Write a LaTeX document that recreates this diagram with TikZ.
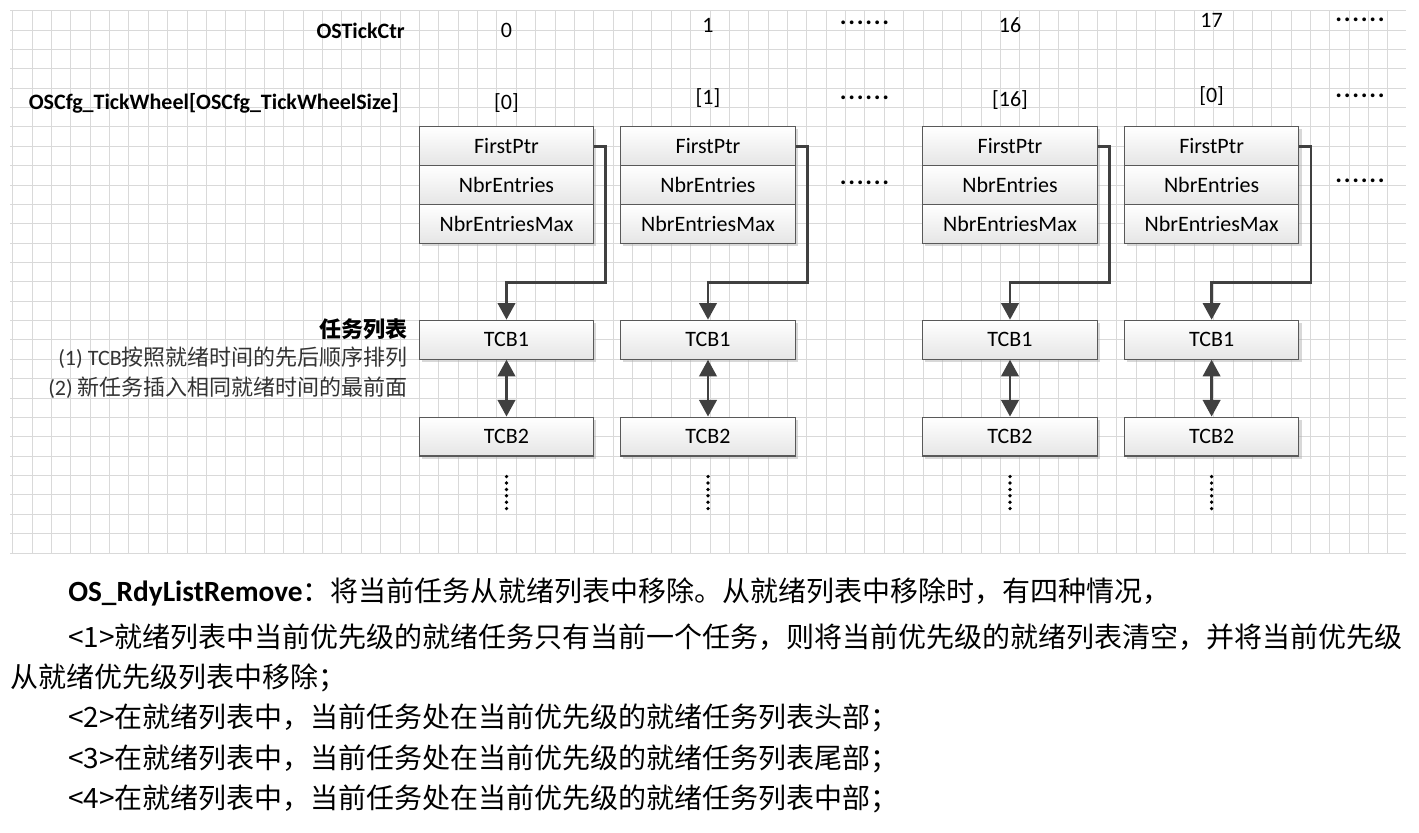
\documentclass[tikz,border=0pt]{standalone}
\usepackage{fontspec}
\setmainfont{Carlito}
\newfontfamily\cjk{Noto Sans CJK SC}
\usetikzlibrary{arrows.meta,shadows,calc}
\newcommand{\sixdots}{\foreach \d in {1,...,6}{.\hspace{1.3pt}}}
\newcommand{\bigtext}{\cjk\fontsize{21pt}{24pt}\selectfont}

\begin{document}
\fontsize{16.5pt}{19pt}\selectfont
\begin{tikzpicture}[x=0.75pt,y=-0.75pt,
  gridline/.style={draw=black!15,line width=0.75pt},
  field/.style={draw=black!65,line width=0.9pt,top color=white,bottom color=black!10,
    minimum width=130.9pt,minimum height=29.1pt,inner sep=0pt,
    drop shadow={shadow xshift=2pt,shadow yshift=-2pt,fill=black!30,opacity=0.5}},
  link/.style={draw=black!75,line width=2.2pt},
  tip/.style={-{Triangle[width=13pt,length=12.5pt]}},
  twotip/.style={{Triangle[width=13pt,length=12.5pt]}-{Triangle[width=13pt,length=12.5pt]}},
  vdots/.style={draw=black,line width=2.8pt,line cap=round,dash pattern=on 0pt off 4.8pt},
  txt/.style={inner sep=0pt}]
\useasboundingbox (0,0) rectangle (1419,832);
% grid background
\foreach \k in {0,...,71}
  \draw[gridline] ({12.7+19.37*\k},10.7) -- ++(0,542.6);
\foreach \k in {0,...,28}
  \draw[gridline] (10,{10.7+19.37*\k}) -- (1406,{10.7+19.37*\k});
% row titles
\node[txt,anchor=east,font=\bfseries] (tickctr) at (405,31) {OSTickCtr};
\node[txt,anchor=east,font=\bfseries] (wheel) at (399,103) {OSCfg\_TickWheel[OSCfg\_TickWheelSize]};
% wheel slots
\foreach \c/\x/\n/\ny/\w/\wy in {a/506.5/0/30/{[0]}/103, b/708/1/25/{[1]}/98,
    c/1010/16/25/{[16]}/100, d/1211.6/17/20/{[0]}/96}{
  \node[txt] (tick\c) at (\x,\ny) {\n};
  \node[txt] (slot\c) at (\x,\wy) {\w};
  \node[field] (first\c) at (\x,146.2) {FirstPtr};
  \node[field] (nbr\c) at (\x,185) {NbrEntries};
  \node[field] (max\c) at (\x,223.8) {NbrEntriesMax};
  \node[field] (tcba\c) at (\x,339.7) {TCB1};
  \node[field] (tcbb\c) at (\x,436.6) {TCB2};
  \draw[link,tip] (first\c.east) -- ++(11.5,0) -- ++(0,136) -| (tcba\c.north);
  \draw[link,twotip] (tcba\c.south) -- (tcbb\c.north);
  \draw[vdots] ($(tcbb\c.south)+(0,20)$) -- ++(0,38);
}
\foreach \x/\y [count=\k] in {864.5/23, 864.5/98, 864.5/183, 1360/20, 1360/96, 1360/181}
  \node[txt,font=\bfseries\fontsize{19pt}{21pt}\selectfont] (more\k) at (\x,\y) {\sixdots};
% task list notes
\node[txt,anchor=east,font=\cjk\bfseries] (tasklist) at (408,329) {任务列表};
\node[txt,anchor=east,text=black!80] (noteone) at (408,358) {(1) TCB{\cjk 按照就绪时间的先后顺序排列}};
\node[txt,anchor=east,text=black!80] (notetwo) at (408,388) {(2) {\cjk 新任务插入相同就绪时间的最前面}};
% text below
\node[txt,anchor=west,font=\bigtext] (lineone) at (68,592) {{\rmfamily\bfseries\fontsize{22pt}{24pt}\selectfont OS\_RdyListRemove}：将当前任务从就绪列表中移除。从就绪列表中移除时，有四种情况，};
\node[txt,anchor=west,font=\bigtext] (linetwo) at (68,637) {<1>就绪列表中当前优先级的就绪任务只有当前一个任务，则将当前优先级的就绪列表清空，并将当前优先级};
\node[txt,anchor=west,font=\bigtext] (linethree) at (10,678) {从就绪优先级列表中移除；};
\node[txt,anchor=west,font=\bigtext] (linefour) at (68,718) {<2>在就绪列表中，当前任务处在当前优先级的就绪任务列表头部；};
\node[txt,anchor=west,font=\bigtext] (linefive) at (68,759) {<3>在就绪列表中，当前任务处在当前优先级的就绪任务列表尾部；};
\node[txt,anchor=west,font=\bigtext] (linesix) at (68,799) {<4>在就绪列表中，当前任务处在当前优先级的就绪任务列表中部；};
\end{tikzpicture}
\end{document}
